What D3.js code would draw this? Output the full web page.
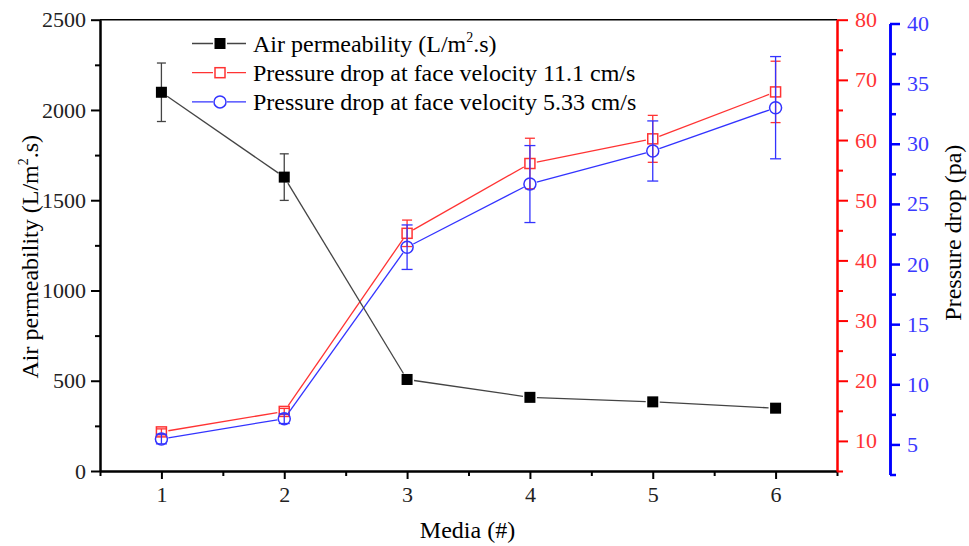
<!DOCTYPE html>
<meta charset="utf-8">
<style>
  body { margin: 0; background: #fff; }
  svg text { font-family: 'Liberation Serif', 'Times New Roman', serif; }
</style>
<svg width="969" height="546"></svg>

<script src="https://d3js.org/d3.v7.min.js"></script>

<script>

	// data
	var media = [1, 2, 3, 4, 5, 6];
	var airPerm = [2098, 1628, 507, 408, 383, 348];
	var airPermErr = [162, 129, 12, 10, 10, 10];
	var dropHigh = [11.5, 14.9, 44.5, 56.1, 60.2, 68.0];      // 11.1 cm/s
	var dropHighErr = [0.5, 0.5, 2.2, 4.2, 3.9, 5.1];
	var dropLow = [5.45, 7.14, 21.4, 26.65, 29.4, 33.0];      // 5.33 cm/s
	var dropLowErr = [0.4, 0.4, 1.85, 3.2, 2.5, 4.25];

	var legendLabels = ["Air permeability (L/m", "Pressure drop at face velocity 11.1 cm/s", "Pressure drop at face velocity 5.33 cm/s"];
	var leftTicks = [0, 500, 1000, 1500, 2000, 2500];
	var redTicks = [10, 20, 30, 40, 50, 60, 70, 80];
	var blueTicks = [5, 10, 15, 20, 25, 30, 35, 40];

	var FONT = "'Liberation Serif', 'Times New Roman', serif";

	var svg = d3.select("svg"),
	margin = {top: 19.7, right: 132, bottom: 75, left: 100},
	width = +svg.attr("width") - margin.left - margin.right,
	height = +svg.attr("height") - margin.top - margin.bottom;

	var x = d3.scaleLinear().domain([0.5, 6.5]).range([0, width]),
	y = d3.scaleLinear().domain([0, 2500]).range([height, 0]),
	yRed = d3.scaleLinear().domain([5, 80]).range([height, 0]),
	yBlue = d3.scaleLinear().domain([2.5, 40]).range([height + 3.5, 3.8]);

	var RED = "#ff0000", BLUE = "#0000ff";

	var g = svg.append("g")
		.attr("transform", "translate(" + margin.left + "," + margin.top + ")");

	// top frame
	g.append("line")
		.attr("x1", 0).attr("x2", width).attr("y1", 0).attr("y2", 0)
		.attr("stroke", "#000").attr("stroke-width", 1.5);

	// AXES

	function styleAxis(sel, color, sw) {
		sel.attr("font-family", FONT);
		sel.select(".domain").attr("stroke", color).attr("stroke-width", sw);
		sel.selectAll(".tick line").attr("stroke", color).attr("stroke-width", sw);
		sel.selectAll("text").attr("fill", color).attr("font-family", FONT).attr("font-size", 20);
	}

	// left
	var gl = g.append("g").call(d3.axisLeft(y).tickValues(d3.range(250, 2500, 500)).tickFormat("").tickSize(5).tickSizeOuter(0));
	styleAxis(gl, "#000", 2);
	var gl2 = g.append("g").call(d3.axisLeft(y).tickValues(leftTicks).tickFormat(d3.format("d")).tickSize(9).tickPadding(5).tickSizeOuter(0));
	styleAxis(gl2, "#000", 2);
	gl2.selectAll("text").attr("fill", "#222").attr("font-size", 22);

	// bottom
	var gb = g.append("g").attr("transform", "translate(0," + height + ")")
		.call(d3.axisBottom(x).tickValues(d3.range(0.5, 7, 1)).tickFormat("").tickSize(5).tickSizeOuter(0));
	styleAxis(gb, "#000", 2);
	var gb2 = g.append("g").attr("transform", "translate(0," + height + ")")
		.call(d3.axisBottom(x).tickValues(media).tickFormat(d3.format("d")).tickSize(8).tickPadding(7).tickSizeOuter(0));
	styleAxis(gb2, "#000", 2);
	gb2.selectAll("text").attr("fill", "#222").attr("font-size", 22);

	// red right
	var gr = g.append("g").attr("transform", "translate(" + width + ",0)")
		.call(d3.axisRight(yRed).tickValues(d3.range(5, 80, 10)).tickFormat("").tickSize(6).tickSizeOuter(0));
	styleAxis(gr, RED, 2);
	var gr2 = g.append("g").attr("transform", "translate(" + width + ",0)")
		.call(d3.axisRight(yRed).tickValues(redTicks).tickSize(11).tickPadding(7).tickSizeOuter(0));
	styleAxis(gr2, RED, 2);
	gr2.selectAll("text").attr("fill", "#ff3333").attr("font-size", 22);

	// blue right
	var blueX = width + 53;
	var gbl = g.append("g").attr("transform", "translate(" + blueX + ",0)")
		.call(d3.axisRight(yBlue).tickValues(d3.range(2.5, 40, 5)).tickFormat("").tickSize(6).tickSizeOuter(0));
	styleAxis(gbl, BLUE, 2.5);
	var gbl2 = g.append("g").attr("transform", "translate(" + blueX + ",0)")
		.call(d3.axisRight(yBlue).tickValues(blueTicks).tickSize(10).tickPadding(7).tickSizeOuter(0));
	styleAxis(gbl2, BLUE, 2.5);
	gbl2.selectAll("text").attr("fill", "#3a3aff").attr("font-size", 22);

	// AXIS TITLES

	svg.append("text")
		.attr("x", margin.left + width / 2 - 1)
		.attr("y", 538)
		.attr("text-anchor", "middle")
		.attr("font-family", FONT)
		.attr("font-size", 24)
		.text("Media (#)");

	var lt = svg.append("text")
		.attr("transform", "translate(38," + (margin.top + 237) + ") rotate(-90)")
		.attr("text-anchor", "middle")
		.attr("font-family", FONT)
		.attr("font-size", 24);
	lt.append("tspan").text("Air permeability (L/m");
	lt.append("tspan").attr("dy", -10).attr("font-size", 14).text("2");
	lt.append("tspan").attr("dy", 10).text(".s)");

	svg.append("text")
		.attr("transform", "translate(961," + (margin.top + 213) + ") rotate(-90)")
		.attr("text-anchor", "middle")
		.attr("font-family", FONT)
		.attr("font-size", 24)
		.text("Pressure drop (pa)");

	// SERIES

	function shortSegments(pts, gap) {
		var segs = [];
		for (var i = 0; i < pts.length - 1; i++) {
			var dx = pts[i + 1][0] - pts[i][0], dy = pts[i + 1][1] - pts[i][1];
			var len = Math.sqrt(dx * dx + dy * dy), ux = dx / len, uy = dy / len;
			segs.push([pts[i][0] + ux * gap, pts[i][1] + uy * gap, pts[i + 1][0] - ux * gap, pts[i + 1][1] - uy * gap]);
		}
		return segs;
	}

	function drawMarker(sel, shape, color, cx, cy) {
		if (shape == "filled") {
			sel.append("rect").attr("x", cx - 5.5).attr("y", cy - 5.5).attr("width", 11).attr("height", 11)
				.attr("fill", "#000");
		} else if (shape == "square") {
			sel.append("rect").attr("x", cx - 5).attr("y", cy - 5).attr("width", 10).attr("height", 10)
				.attr("fill", "none").attr("stroke", color).attr("stroke-width", 1.5);
		} else {
			sel.append("circle").attr("cx", cx).attr("cy", cy).attr("r", 6)
				.attr("fill", "none").attr("stroke", color).attr("stroke-width", 1.5);
		}
	}

	function drawSeries(vals, errs, ys, color, lineColor, shape, capW) {
		var s = g.append("g");
		var pts = media.map(function(m, i) { return [x(m), ys(vals[i])]; });

		s.selectAll(".seg").data(shortSegments(pts, 7)).enter().append("line")
			.attr("x1", function(d) { return d[0]; }).attr("y1", function(d) { return d[1]; })
			.attr("x2", function(d) { return d[2]; }).attr("y2", function(d) { return d[3]; })
			.attr("stroke", lineColor).attr("stroke-width", 1.3);

		// error bars
		media.forEach(function(m, i) {
			var cx = x(m), top = ys(vals[i] + errs[i]), bot = ys(vals[i] - errs[i]);
			s.append("line").attr("x1", cx).attr("x2", cx).attr("y1", top).attr("y2", bot)
				.attr("stroke", lineColor).attr("stroke-width", 1.3);
			[top, bot].forEach(function(yy) {
				s.append("line").attr("x1", cx - capW / 2).attr("x2", cx + capW / 2).attr("y1", yy).attr("y2", yy)
					.attr("stroke", lineColor).attr("stroke-width", 1.3);
			});
		});

		pts.forEach(function(p) { drawMarker(s, shape, color, p[0], p[1]); });
	}

	drawSeries(dropHigh, dropHighErr, yRed, "#ff3333", "#ff3333", "square", 10);
	drawSeries(dropLow, dropLowErr, yBlue, "#3333ff", "#3333ff", "circle", 11);
	drawSeries(airPerm, airPermErr, y, "#000", "#444", "filled", 9);

	// LEGEND

	var legendColors = ["#444", "#ff3333", "#3333ff"];
	var legendShapes = ["filled", "square", "circle"];
	var lg = svg.append("g");
	legendLabels.forEach(function(lab, i) {
		var ly = 43.5 + i * 29.2;
		lg.append("line").attr("x1", 192).attr("x2", 246).attr("y1", ly).attr("y2", ly)
			.attr("stroke", legendColors[i]).attr("stroke-width", 1.3);
		lg.append("rect").attr("x", 213).attr("y", ly - 7).attr("width", 14).attr("height", 14).attr("fill", "#fff");
		drawMarker(lg, legendShapes[i], legendColors[i], 220, ly);
		var t = lg.append("text").attr("x", 253).attr("y", ly + 8)
			.attr("font-family", FONT).attr("font-size", 24);
		t.append("tspan").text(lab);
		if (i == 0) {
			t.append("tspan").attr("dy", -10).attr("font-size", 14).text("2");
			t.append("tspan").attr("dy", 10).text(".s)");
		}
	});

</script>
